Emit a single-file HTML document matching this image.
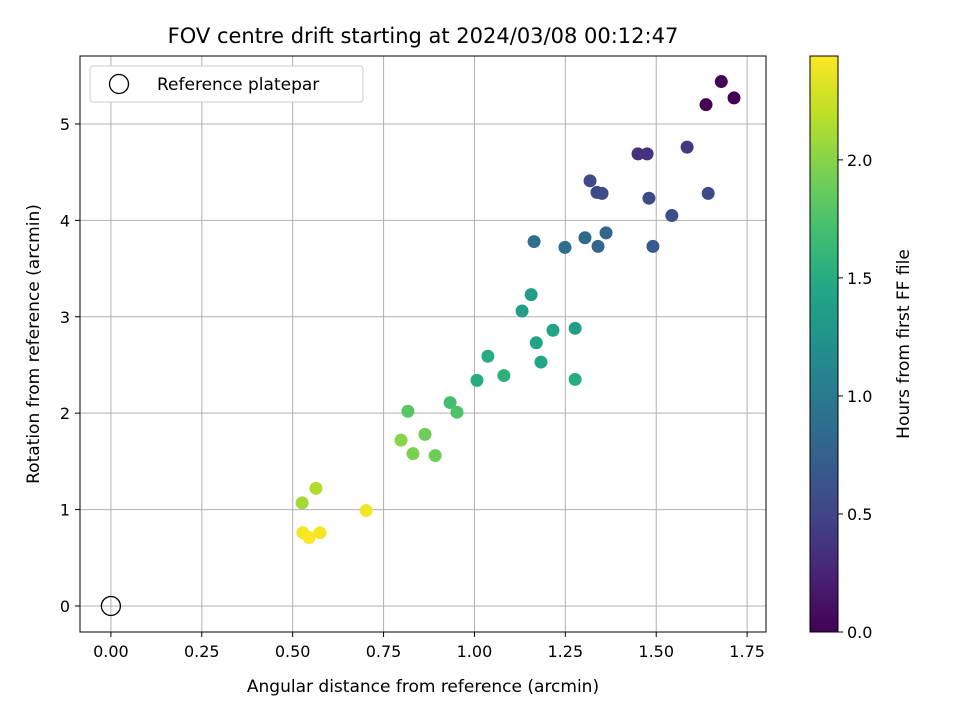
<!DOCTYPE html>
<html><head><meta charset="utf-8"><style>
body{margin:0;background:#fff;font-family:"Liberation Sans","DejaVu Sans",sans-serif}
</style></head><body>
<svg id="c" width="960" height="720" xmlns="http://www.w3.org/2000/svg" font-family="DejaVu Sans, Liberation Sans, sans-serif">
<defs><linearGradient id="vg" x1="0" y1="1" x2="0" y2="0">
<stop offset="0" stop-color="#440154"/><stop offset="0.1" stop-color="#482475"/><stop offset="0.2" stop-color="#414487"/><stop offset="0.3" stop-color="#355f8d"/><stop offset="0.4" stop-color="#2a788e"/><stop offset="0.5" stop-color="#21918c"/><stop offset="0.6" stop-color="#22a884"/><stop offset="0.7" stop-color="#44bf70"/><stop offset="0.8" stop-color="#7ad151"/><stop offset="0.9" stop-color="#bddf26"/><stop offset="1" stop-color="#fde725"/></linearGradient></defs>
<g id="grid"></g><g id="pts"></g>
<rect x="80" y="56" width="686" height="576" fill="none" stroke="#000" stroke-width="1"/>
<text x="423" y="43" font-size="21" text-anchor="middle">FOV centre drift starting at 2024/03/08 00:12:47</text>
<text x="423" y="692" font-size="17" text-anchor="middle">Angular distance from reference (arcmin)</text>
<text transform="translate(39,344) rotate(-90)" font-size="17" text-anchor="middle">Rotation from reference (arcmin)</text>
<g>
<rect x="90" y="66" width="273" height="36" rx="3" fill="#fff" stroke="#ccc"/>
<circle cx="119" cy="84" r="9.5" fill="none" stroke="#000" stroke-width="1.3"/>
<text x="157" y="90" font-size="17">Reference platepar</text></g>
<rect x="810" y="56" width="28" height="576" fill="url(#vg)" stroke="#000"/>
<g id="cb"></g>
<text transform="translate(909,344) rotate(-90)" font-size="17" text-anchor="middle">Hours from first FF file</text>
</svg>
<script>
const xs=[1.679,1.637,1.714,1.450,1.475,1.585,1.318,1.337,1.351,1.480,1.643,1.543,1.164,1.249,1.304,1.362,1.340,1.491,1.156,1.131,1.216,1.277,1.170,1.183,1.277,1.037,1.081,1.007,0.933,0.952,0.817,0.798,0.864,0.831,0.892,0.526,0.564,0.702,0.528,0.545,0.575];
const ys=[5.44,5.20,5.27,4.69,4.69,4.76,4.41,4.29,4.28,4.23,4.28,4.05,3.78,3.72,3.82,3.87,3.73,3.73,3.23,3.06,2.86,2.88,2.73,2.53,2.35,2.59,2.39,2.34,2.11,2.01,2.02,1.72,1.78,1.58,1.56,1.07,1.22,0.99,0.76,0.71,0.76];
const hours=[0.02,0.0,0.0,0.35,0.35,0.4,0.55,0.55,0.55,0.55,0.55,0.6,0.9,0.9,0.85,0.8,0.8,0.7,1.35,1.35,1.4,1.35,1.4,1.45,1.5,1.5,1.55,1.5,1.7,1.75,1.8,2.0,1.9,1.95,1.9,2.1,2.15,2.4,2.4,2.45,2.4];
const xTicks=[0,0.25,0.5,0.75,1.0,1.25,1.5,1.75];
const yTicks=[0,1,2,3,4,5];
const cTicks=[0,0.5,1.0,1.5,2.0];
const X=v=>80+(v+0.085)/1.887*686, Y=v=>632-(v+0.27)/5.975*576, C=v=>632-v/2.44*576;
const vir=[[68,1,84],[72,36,117],[65,68,135],[53,95,141],[42,120,142],[33,145,140],[34,168,132],[68,191,112],[122,209,81],[189,223,38],[253,231,37]];
function col(t){t=Math.max(0,Math.min(1,t))*(vir.length-1);const i=Math.min(vir.length-2,Math.floor(t)),f=t-i;const a=vir[i],b=vir[i+1];return`rgb(${a.map((v,k)=>Math.round(v+(b[k]-v)*f)).join(',')})`;}
const NS='http://www.w3.org/2000/svg';
function mk(p,t,at){const e=document.createElementNS(NS,t);for(const k in at)e.setAttribute(k,at[k]);p.appendChild(e);return e;}
const g=document.getElementById('grid'),svg=document.getElementById('c');
xTicks.forEach(v=>{const x=X(v);
const l=mk(g,'line',{x1:x,x2:x,y1:56,y2:632,stroke:'#b0b0b0','stroke-width':1});


mk(g,'line',{x1:x,x2:x,y1:632,y2:637,stroke:'#000'});
const t=mk(svg,'text',{x:x,y:657,'font-size':16,'text-anchor':'middle'});t.textContent=v.toFixed(2);

});
yTicks.forEach(v=>{const y=Y(v);
const l=mk(g,'line',{x1:80,x2:766,y1:y,y2:y,stroke:'#b0b0b0','stroke-width':1});


mk(g,'line',{x1:75,x2:80,y1:y,y2:y,stroke:'#000'});
const t=mk(svg,'text',{x:70,y:y+6,'font-size':16,'text-anchor':'end'});t.textContent=v;

});
const cb=document.getElementById('cb');
cTicks.forEach(v=>{const y=C(v);mk(cb,'line',{x1:838,x2:843,y1:y,y2:y,stroke:'#000'});
const t=mk(cb,'text',{x:847,y:y+6,'font-size':16});t.textContent=v.toFixed(1);

});
const p=document.getElementById('pts');
xs.forEach((v,i)=>{const c=mk(p,'circle',{cx:X(v),cy:Y(ys[i]),r:6.5,fill:col(hours[i]/2.44)});

});
const r=mk(p,'circle',{cx:X(0),cy:Y(0),r:9.5,fill:'none',stroke:'#000','stroke-width':1.3});


</script>
</body></html>
